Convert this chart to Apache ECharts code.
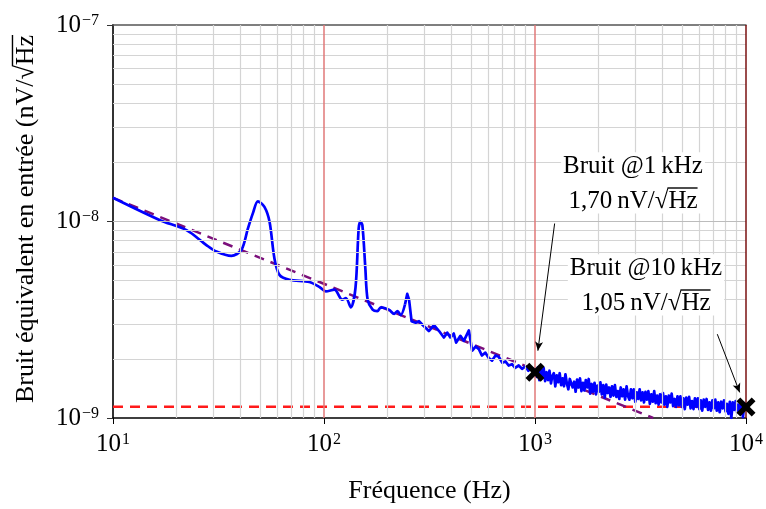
<!DOCTYPE html>
<html>
<head>
<meta charset="utf-8">
<script src="https://cdn.jsdelivr.net/npm/echarts@6/dist/echarts.min.js"></script>
<style>
  html, body { margin: 0; padding: 0; background: #fff; }
  #chart { width: 766px; height: 509px; }
</style>
</head>
<body>
<div id="chart"></div>
<script>
// measured noise spectrum, low frequency part (smooth): [Hz, nV/sqrt(Hz)]
const noiseLow = [
  [10, 13.2], [16.7, 10.15], [22.3, 9.04], [27.7, 7.59], [30.9, 7.03], [36.4, 6.68],
  [40.6, 7.16], [43.6, 9.22], [46, 11.0], [48.6, 12.67], [52.2, 11.86], [55.2, 9.96],
  [58.2, 6.5], [61.5, 5.35], [68.6, 5.05], [85.2, 4.92], [95, 4.65], [102, 4.41],
  [112, 4.5], [122, 4.0], [127, 4.08], [134, 3.66], [141, 4.59], [146, 9.22],
  [148.6, 9.96], [152, 9.58], [157, 5.79], [161, 4.0], [170, 3.56], [179, 3.50],
  [186, 3.66], [203, 3.56], [215, 3.39], [223, 3.50], [231, 3.34], [242, 3.78]
];
// measured noise spectrum, upper part (jagged)
const noiseHigh = [
  [242, 3.78], [248, 4.28], [253, 4.0], [260, 3.11], [272, 3.05], [282, 3.11], [292, 2.99],
  [314, 2.77], [332, 2.97], [351, 2.77], [370, 2.57], [384, 2.72], [397, 2.57],
  [412, 2.69], [423, 2.42], [443, 2.62], [460, 2.47], [486, 2.79], [504, 2.20],
  [523, 2.31], [542, 2.24], [560, 2.08], [582, 2.15], [604, 2.02], [626, 1.96], [650, 2.08],
  [673, 2.05], [700, 1.91], [724, 1.94], [750, 1.85], [778, 1.88], [805, 1.80], [837, 1.85],
  [868, 1.78], [900, 1.83], [930, 1.74], [960, 1.79],
  [1000, 1.77], [1016, 1.62], [1032, 1.81], [1048, 1.56], [1065, 1.76], [1082, 1.63],
  [1099, 1.80], [1117, 1.54], [1135, 1.71], [1153, 1.56], [1171, 1.74], [1190, 1.50],
  [1209, 1.64], [1228, 1.69], [1248, 1.45], [1268, 1.65], [1288, 1.52], [1309, 1.69],
  [1330, 1.47], [1351, 1.59], [1372, 1.45], [1394, 1.67], [1417, 1.49], [1439, 1.40],
  [1462, 1.58], [1486, 1.61], [1509, 1.43], [1534, 1.53], [1558, 1.36], [1583, 1.57],
  [1608, 1.43], [1634, 1.59], [1660, 1.37], [1687, 1.51], [1714, 1.38], [1741, 1.56],
  [1769, 1.43], [1797, 1.58], [1826, 1.33], [1855, 1.49], [1885, 1.36], [1915, 1.51],
  [1946, 1.32], [1977, 1.46], [2009, 1.36], [2041, 1.52], [2073, 1.32], [2107, 1.47],
  [2140, 1.27], [2175, 1.48], [2209, 1.34], [2245, 1.43], [2281, 1.28], [2317, 1.45],
  [2354, 1.30], [2392, 1.47], [2430, 1.28], [2469, 1.37], [2509, 1.25], [2549, 1.43],
  [2590, 1.29], [2631, 1.40], [2673, 1.24], [2716, 1.45], [2760, 1.29], [2804, 1.24],
  [2849, 1.40], [2894, 1.26], [2941, 1.40], [2988, 1.21], [3035, 1.35], [3084, 1.25],
  [3133, 1.40], [3183, 1.23], [3234, 1.35], [3286, 1.20], [3339, 1.36], [3392, 1.24],
  [3446, 1.37], [3502, 1.18], [3558, 1.32], [3615, 1.21], [3672, 1.37], [3731, 1.19],
  [3791, 1.30], [3852, 1.17], [3913, 1.32], [3976, 1.20], [4040, 1.34], [4104, 1.17],
  [4170, 1.29], [4237, 1.14], [4304, 1.30], [4373, 1.20], [4443, 1.33], [4514, 1.15],
  [4587, 1.25], [4660, 1.14], [4735, 1.29], [4810, 1.16], [4887, 1.29], [4966, 1.14],
  [5045, 1.26], [5126, 1.11], [5208, 1.27], [5291, 1.17], [5376, 1.28], [5462, 1.12],
  [5549, 1.22], [5638, 1.11], [5728, 1.26], [5820, 1.14], [5913, 1.26], [6008, 1.11],
  [6104, 1.23], [6202, 1.09], [6301, 1.24], [6402, 1.14], [6504, 1.25], [6608, 1.10],
  [6714, 1.20], [6821, 1.09], [6930, 1.23], [7041, 1.12], [7154, 1.24], [7268, 1.09],
  [7385, 1.20], [7503, 1.07], [7623, 1.21], [7745, 1.12], [7869, 1.23], [7995, 1.08],
  [8123, 1.18], [8253, 1.05], [8385, 1.21], [8519, 1.00], [8656, 1.20], [8794, 1.10],
  [8935, 1.22], [9078, 1.07], [9223, 1.17], [9371, 1.05], [9521, 1.20], [9673, 1.01],
  [9828, 1.19], [10000, 1.13]
];
// 1/f fit (purple) and white noise floor (red), nV/sqrt(Hz)
const fitLine = [[10, 13.2], [3630, 1.0]];
const floorLine = [[10, 1.14], [10000, 1.14]];
// marked points
const markedPoints = [[1000, 1.71], [10000, 1.137]];
// arrows: [from, to]
const arrows = [
  [[1239, 9.77], [1032, 2.20]],
  [[7311, 2.67], [9335, 1.35]]
];
// grid lines
const minorFreqs = [20, 30, 40, 50, 60, 70, 80, 90, 200, 300, 400, 500, 600, 700, 800, 900,
  2000, 3000, 4000, 5000, 6000, 7000, 8000, 9000];
const majorFreqs = [100, 1000];
const edgeFreqs = [10000];
const minorAmps = [2, 3, 4, 5, 6, 7, 8, 9, 20, 30, 40, 50, 60, 70, 80, 90];
const majorAmps = [10];

const xMin = 10, xMax = 10000, yMin = 1e-9, yMax = 1e-7;
const nV = 1e-9;
const toV = arr => arr.map(p => [p[0], p[1] * nV]);
const FONT = 'Liberation Serif';
const FS = 25;
const TITLE_FS = 26;

function powLabel(v) {
  const e = Math.round(Math.log10(v));
  const s = e < 0 ? '\u2212' + (-e) : String(e);
  return '{b|10}{e|' + s + '}';
}
const labelRich = {
  b: { fontSize: 25, fontFamily: FONT, color: '#000' },
  e: { fontSize: 16, fontFamily: FONT, color: '#000', verticalAlign: 'top', padding: [0, 0, 0, 1] }
};

function vLine(x, color, width) {
  return [{ coord: [x, yMin], lineStyle: { color: color, width: width, type: 'solid' } }, { coord: [x, yMax] }];
}
function hLine(y, color, width) {
  return [{ coord: [xMin, y], lineStyle: { color: color, width: width, type: 'solid' } }, { coord: [xMax, y] }];
}
const gridLines = []
  .concat(minorFreqs.map(v => vLine(v, '#d4d4d4', 1.2)))
  .concat(minorAmps.map(v => hLine(v * nV, '#d4d4d4', 1.2)))
  .concat(majorAmps.map(v => hLine(v * nV, '#bcbcbc', 1.2)))
  .concat(majorFreqs.map(v => vLine(v, '#e07878', 1.5)))
  .concat(edgeFreqs.map(v => vLine(v, '#7a1010', 1.5)));

// text measuring for the sqrt overlines
const ctx = document.createElement('canvas').getContext('2d');
function textW(t, fs) { ctx.font = fs + 'px "' + FONT + '"'; return ctx.measureText(t).width; }

function sqrtNote(cx, cy, line1, pre) {
  const full = pre + '\u221AHz';
  const w = textW(full, FS);
  const w1 = textW(line1, FS);
  const bw = Math.max(w, w1) + 4;
  const x0 = cx - w / 2 + textW(pre + '\u221A', FS) - 1;
  const x1 = cx + w / 2;
  const font = FS + 'px "' + FONT + '"';
  return [
    { type: 'rect', z: 100, shape: { x: cx - bw / 2, y: cy - 35 - FS * 0.55, width: bw, height: 35 + FS * 1.05 }, style: { fill: '#fff' } },
    { type: 'text', z: 101, x: cx, y: cy - 35, style: { text: line1, font: font, fill: '#000', align: 'center', verticalAlign: 'middle' } },
    { type: 'text', z: 101, x: cx, y: cy, style: { text: full, font: font, fill: '#000', align: 'center', verticalAlign: 'middle' } },
    { type: 'line', z: 101, shape: { x1: x0, y1: cy - FS * 0.52, x2: x1, y2: cy - FS * 0.52 }, style: { stroke: '#000', lineWidth: 1.4 } }
  ];
}

const yTitle = 'Bruit équivalent en entrée (nV/\u221AHz';
const yTitleW = textW(yTitle, TITLE_FS);
const yTitleCx = 26, yTitleCy = 219;
const yHzW = textW('Hz', TITLE_FS);

const chart = echarts.init(document.getElementById('chart'));
chart.setOption({
  animation: false,
  grid: { left: 113, right: 18, top: 25, bottom: 88 },
  xAxis: [{
    type: 'log',
    logBase: 10,
    min: xMin,
    max: xMax,
    position: 'bottom',
    axisLine: { lineStyle: { color: '#000', width: 1.5 } },
    axisTick: { length: 6, lineStyle: { color: '#000' } },
    splitLine: { show: false },
    axisLabel: { formatter: powLabel, rich: labelRich, margin: 14 },
    name: 'Fréquence (Hz)',
    nameLocation: 'middle',
    nameGap: 60,
    nameTextStyle: { fontSize: TITLE_FS, fontFamily: FONT, color: '#000' }
  }, {
    type: 'log',
    logBase: 10,
    min: xMin,
    max: xMax,
    position: 'top',
    axisLine: { lineStyle: { color: '#555', width: 1.5 } },
    axisTick: { show: false },
    axisLabel: { show: false },
    splitLine: { show: false }
  }],
  yAxis: {
    type: 'log',
    logBase: 10,
    min: yMin,
    max: yMax,
    axisLine: { show: true, lineStyle: { color: '#333', width: 2 } },
    axisTick: { show: true, length: 6, lineStyle: { color: '#333' } },
    splitLine: { show: false },
    axisLabel: { formatter: powLabel, rich: labelRich, margin: 14 }
  },
  series: [{
    name: 'grid',
    type: 'line',
    data: toV(floorLine),
    lineStyle: { opacity: 0 },
    showSymbol: false,
    silent: true,
    z: 1,
    markLine: {
      silent: true,
      symbol: 'none',
      label: { show: false },
      animation: false,
      data: gridLines
    }
  }, {
    name: 'floor',
    type: 'line',
    data: toV(floorLine),
    showSymbol: false,
    z: 3,
    lineStyle: { color: '#ff1a1a', width: 2.5, type: [10, 7] }
  }, {
    name: 'fit',
    type: 'line',
    data: toV(fitLine),
    showSymbol: false,
    z: 3,
    lineStyle: { color: '#7b0f7b', width: 2.5, type: [10, 7] }
  }, {
    name: 'noise',
    type: 'line',
    data: toV(noiseLow),
    showSymbol: false,
    smooth: 0.3,
    z: 4,
    lineStyle: { color: '#0000ff', width: 2.7 }
  }, {
    name: 'noise2',
    type: 'line',
    data: toV(noiseHigh),
    showSymbol: false,
    z: 4,
    lineStyle: { color: '#0000ff', width: 2.7, join: 'round' }
  }, {
    name: 'marks',
    type: 'scatter',
    data: toV(markedPoints),
    symbol: 'path://M0,2 L2,0 L5,3 L8,0 L10,2 L7,5 L10,8 L8,10 L5,7 L2,10 L0,8 L3,5 Z',
    symbolSize: 19,
    z: 6,
    itemStyle: { color: '#000', opacity: 1 },
    markLine: {
      silent: true,
      symbol: ['none', 'arrow'],
      symbolSize: [6, 9],
      label: { show: false },
      lineStyle: { color: '#000', width: 1, type: 'solid' },
      data: arrows.map(a => [{ coord: [a[0][0], a[0][1] * nV] }, { coord: [a[1][0], a[1][1] * nV] }])
    }
  }],
  graphic: []
    .concat(sqrtNote(633, 201, 'Bruit @1\u2009kHz', '1,70\u2009nV/'))
    .concat(sqrtNote(646, 303, 'Bruit @10\u2009kHz', '1,05\u2009nV/'))
    .concat([
      { type: 'text', x: yTitleCx, y: yTitleCy, rotation: Math.PI / 2,
        style: { text: yTitle, font: TITLE_FS + 'px "' + FONT + '"', fill: '#000', align: 'center', verticalAlign: 'middle' } },
      { type: 'line', shape: { x1: yTitleCx - TITLE_FS * 0.52, y1: yTitleCy - yTitleW / 2, x2: yTitleCx - TITLE_FS * 0.52, y2: yTitleCy - yTitleW / 2 + yHzW + 1 },
        style: { stroke: '#000', lineWidth: 1.4 } }
    ])
});
</script>
</body>
</html>
